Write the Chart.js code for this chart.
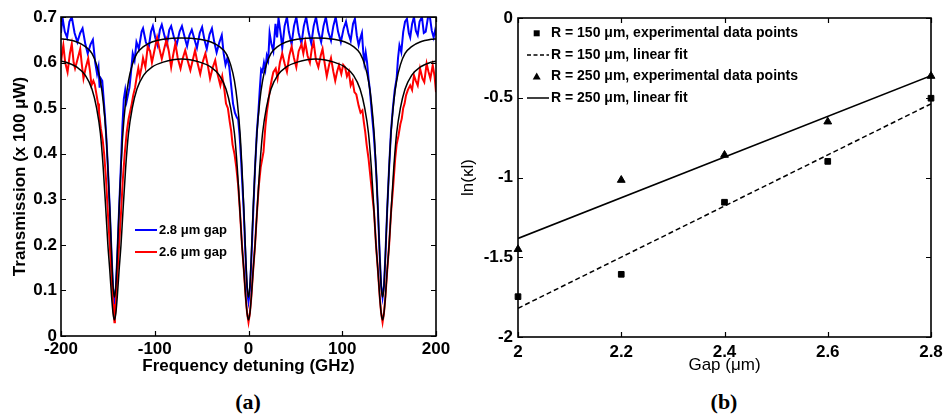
<!DOCTYPE html>
<html>
<head>
<meta charset="utf-8">
<script src="https://cdn.jsdelivr.net/npm/chart.js@4.4.1/dist/chart.umd.min.js"></script>
<style>
body { margin: 0; background: #fff; }
#wrap { position: relative; width: 945px; height: 416px; overflow: hidden; background: #fff; }
canvas { position: absolute; top: 0; }
#chartA { left: 0; }
#chartB { left: 450px; }
.tag { position: absolute; top: 389px; line-height: 22px; font: bold 22px "Liberation Serif", "Times New Roman", serif; transform: translateX(-50%); }
</style>
</head>
<body>
<div id="wrap">
  <canvas id="chartA" width="470" height="385"></canvas>
  <canvas id="chartB" width="495" height="385"></canvas>
  <div class="tag" style="left:248px">(a)</div>
  <div class="tag" style="left:724px">(b)</div>
</div>
<script>
// ---- panel (a): transmission spectra ----
var blueTrace = [
  [-200, 0.665], [-198.5, 0.70], [-196, 0.668], [-193.5, 0.655], [-191, 0.69], [-188.5, 0.70],
  [-185.5, 0.665], [-182.5, 0.645], [-179.5, 0.665], [-177, 0.675], [-174, 0.64], [-171.5, 0.62],
  [-168.5, 0.64], [-166, 0.65], [-163.5, 0.60], [-161.5, 0.575], [-160, 0.59], [-158.8, 0.545],
  [-157.5, 0.565], [-156, 0.56], [-154.5, 0.52], [-153, 0.48], [-151.5, 0.43], [-150, 0.37],
  [-148, 0.28], [-146, 0.175], [-144.5, 0.105], [-143, 0.075], [-141.5, 0.105], [-140, 0.175],
  [-138, 0.28], [-136, 0.38], [-134.5, 0.46], [-133, 0.52], [-131.5, 0.54], [-130, 0.515],
  [-128.5, 0.53], [-127, 0.545], [-125.5, 0.575], [-123.5, 0.62], [-121.5, 0.605], [-119.5, 0.645],
  [-117, 0.63], [-114, 0.668], [-112.5, 0.675], [-109.5, 0.645], [-106.5, 0.632], [-104, 0.668],
  [-102, 0.68], [-99.5, 0.655], [-97, 0.638], [-94.5, 0.672], [-92.5, 0.683], [-89.5, 0.658],
  [-87, 0.64], [-84.5, 0.672], [-82.5, 0.68], [-79.5, 0.655], [-76.5, 0.64], [-73.5, 0.668],
  [-71, 0.68], [-68, 0.655], [-65.5, 0.636], [-63, 0.66], [-60.5, 0.672], [-57.5, 0.65],
  [-55, 0.632], [-52, 0.665], [-49.5, 0.678], [-47, 0.65], [-44.5, 0.63], [-41.5, 0.662],
  [-39, 0.675], [-36.5, 0.645], [-34, 0.622], [-31, 0.645], [-28.5, 0.66], [-26.5, 0.62],
  [-24.5, 0.595], [-22.5, 0.61], [-20.5, 0.59], [-18.5, 0.55], [-16.5, 0.51], [-14.5, 0.49],
  [-12.5, 0.48], [-11, 0.475], [-9.5, 0.44], [-8, 0.39], [-6.5, 0.33], [-5, 0.27],
  [-3.5, 0.19], [-2, 0.12], [-1, 0.09], [0, 0.075], [1, 0.09], [2, 0.12],
  [3.5, 0.19], [5, 0.27], [7, 0.37], [9, 0.45], [10.5, 0.49], [12, 0.54],
  [13.5, 0.585], [15, 0.58], [16.5, 0.60], [18, 0.585], [19.5, 0.615], [21, 0.605],
  [22.5, 0.665], [24.5, 0.64], [26.5, 0.625], [28.8, 0.685], [30.5, 0.655], [32, 0.698],
  [34.5, 0.66], [36, 0.632], [38.5, 0.68], [41, 0.70], [43, 0.668], [46, 0.64],
  [48.5, 0.68], [51, 0.70], [53.5, 0.665], [56.5, 0.642], [59, 0.68], [61.5, 0.70],
  [64, 0.668], [67, 0.642], [69.5, 0.68], [72, 0.70], [74.5, 0.668], [77.5, 0.645],
  [80, 0.68], [82.5, 0.70], [85, 0.668], [88, 0.648], [90.5, 0.68], [93, 0.70],
  [95.5, 0.668], [98.5, 0.645], [101.5, 0.675], [104, 0.69], [106.5, 0.665], [109, 0.648],
  [111.5, 0.685], [113.5, 0.696], [115.5, 0.66], [117.5, 0.638], [119.5, 0.655], [121, 0.665],
  [122.5, 0.62], [123.5, 0.60], [125, 0.622], [126.5, 0.60], [128, 0.565], [129.5, 0.54],
  [131.5, 0.49], [133.5, 0.445], [135, 0.40], [136.5, 0.35], [138, 0.28], [140, 0.175],
  [141.5, 0.11], [143, 0.085], [144.5, 0.11], [146, 0.175], [148, 0.28], [150, 0.37],
  [152, 0.45], [154, 0.50], [156, 0.54], [158, 0.565], [159.5, 0.61], [161, 0.638],
  [163, 0.623], [165, 0.667], [167, 0.69], [169, 0.696], [171, 0.665], [172.5, 0.655],
  [174.5, 0.685], [176.5, 0.70], [178.5, 0.67], [180.5, 0.66], [182.5, 0.69], [185, 0.70],
  [187, 0.665], [189, 0.668], [191.5, 0.70], [193.5, 0.70], [195.5, 0.67], [197.5, 0.655],
  [199, 0.67], [200, 0.66]
];

var redTrace = [
  [-200, 0.60], [-198.5, 0.625], [-197.5, 0.638], [-195.5, 0.60], [-193, 0.579], [-190.5, 0.62],
  [-188.5, 0.641], [-186.5, 0.60], [-185, 0.587], [-182, 0.61], [-179.5, 0.63], [-178, 0.60],
  [-176, 0.565], [-173.5, 0.59], [-171, 0.609], [-169, 0.58], [-167.5, 0.55], [-165.5, 0.56],
  [-164, 0.552], [-162, 0.528], [-160.5, 0.51], [-159.5, 0.49], [-157.5, 0.455], [-155.5, 0.43],
  [-154, 0.40], [-152, 0.345], [-150, 0.27], [-148, 0.20], [-146, 0.13], [-144.5, 0.07],
  [-143.5, 0.04], [-143, 0.03], [-142.5, 0.04], [-141.5, 0.07], [-140, 0.13], [-138, 0.20],
  [-136, 0.27], [-134, 0.345], [-132, 0.40], [-130, 0.445], [-128, 0.475], [-126.5, 0.49],
  [-124.5, 0.51], [-123, 0.528], [-121, 0.545], [-119.5, 0.565], [-117.5, 0.588], [-116, 0.57],
  [-114, 0.59], [-112.5, 0.61], [-110, 0.59], [-107.5, 0.635], [-105, 0.625], [-103, 0.60],
  [-100.5, 0.625], [-97.5, 0.655], [-95, 0.63], [-92.5, 0.608], [-90, 0.63], [-87.5, 0.65],
  [-85, 0.625], [-82.5, 0.59], [-80.5, 0.615], [-78, 0.642], [-75.5, 0.61], [-72.5, 0.587],
  [-70, 0.61], [-67.5, 0.627], [-65, 0.605], [-62, 0.583], [-59.5, 0.605], [-57, 0.627],
  [-54.5, 0.60], [-51.5, 0.575], [-49, 0.60], [-46, 0.62], [-43.5, 0.595], [-41, 0.565],
  [-38, 0.59], [-35.5, 0.605], [-33, 0.575], [-30, 0.55], [-28, 0.57], [-26, 0.545],
  [-24, 0.51], [-22, 0.50], [-20, 0.47], [-18.5, 0.45], [-17, 0.42], [-15, 0.40],
  [-13, 0.37], [-11, 0.33], [-9, 0.27], [-7, 0.20], [-5, 0.145], [-3, 0.085],
  [-1.5, 0.05], [0, 0.03], [1.5, 0.05], [3, 0.085], [5, 0.145], [7, 0.20],
  [9, 0.27], [11, 0.33], [13, 0.37], [16, 0.404], [18, 0.46], [19.5, 0.49],
  [21.5, 0.52], [23, 0.543], [25, 0.565], [26.5, 0.579], [29, 0.587], [31, 0.565],
  [33.5, 0.60], [36, 0.62], [38.5, 0.598], [41, 0.58], [43.5, 0.615], [46, 0.635],
  [48.5, 0.61], [51, 0.59], [53.5, 0.625], [56.5, 0.64], [58.5, 0.62], [60.5, 0.645],
  [63, 0.615], [65.5, 0.60], [67.5, 0.63], [69.5, 0.645], [72, 0.605], [74.5, 0.59],
  [77, 0.615], [79, 0.63], [81.5, 0.595], [83.5, 0.57], [86, 0.595], [88, 0.61],
  [90.5, 0.58], [92.5, 0.56], [94.5, 0.58], [96.5, 0.594], [99, 0.575], [101, 0.595],
  [103, 0.59], [105, 0.57], [107, 0.58], [109, 0.55], [111, 0.56], [113, 0.535],
  [115, 0.53], [117.5, 0.505], [119.5, 0.49], [121.5, 0.495], [123, 0.47], [124.5, 0.448],
  [126, 0.42], [128, 0.39], [130, 0.35], [132, 0.31], [134, 0.27], [136, 0.20],
  [138, 0.145], [140, 0.085], [141.5, 0.05], [143, 0.03], [144.5, 0.05], [146, 0.085],
  [148, 0.145], [150, 0.20], [152, 0.27], [154, 0.32], [156.5, 0.39], [158, 0.42],
  [160, 0.44], [162, 0.465], [163.5, 0.477], [165, 0.50], [166.5, 0.51], [168, 0.528],
  [170, 0.54], [172.5, 0.55], [174.5, 0.54], [176.5, 0.572], [178.5, 0.56], [180.5, 0.55],
  [183, 0.587], [185.5, 0.565], [187.5, 0.557], [190, 0.598], [192, 0.58], [194, 0.565],
  [196.5, 0.594], [198.5, 0.57], [200, 0.535]
];

// black fitted curves (x in GHz)
var fitX = [-200, -195, -183, -174, -167, -162, -158, -155, -152, -150, -148, -146, -144.5,
  -143, -141.5, -140, -138, -136, -134, -131, -128, -124, -119, -112, -103, -91,
  -71.5, -52, -40, -31, -24, -19, -15, -12, -9, -7, -5, -3, -1.5,
  0, 1.5, 3, 5, 7, 9, 12, 15, 19, 24, 31, 40, 52,
  71.5, 91, 103, 112, 119, 124, 128, 131, 134, 136, 138, 140, 141.5,
  143, 144.5, 146, 148, 150, 152, 155, 158, 162, 167, 174, 183, 195, 200];
var fitUpper = [0.652, 0.651, 0.645, 0.635, 0.62, 0.595, 0.56, 0.515, 0.445, 0.37, 0.28, 0.175, 0.11,
  0.085, 0.11, 0.175, 0.28, 0.37, 0.445, 0.515, 0.56, 0.595, 0.62, 0.635, 0.645, 0.651,
  0.654, 0.651, 0.645, 0.635, 0.62, 0.595, 0.56, 0.515, 0.445, 0.37, 0.28, 0.175, 0.11,
  0.085, 0.11, 0.175, 0.28, 0.37, 0.445, 0.515, 0.56, 0.595, 0.62, 0.635, 0.645, 0.651,
  0.654, 0.651, 0.645, 0.635, 0.62, 0.595, 0.56, 0.515, 0.445, 0.37, 0.28, 0.175, 0.11,
  0.085, 0.11, 0.175, 0.28, 0.37, 0.445, 0.515, 0.56, 0.595, 0.62, 0.635, 0.645, 0.651, 0.652];
var fitLower = [0.603, 0.601, 0.59, 0.572, 0.542, 0.50, 0.445, 0.37, 0.27, 0.20, 0.145, 0.085, 0.05,
  0.035, 0.05, 0.085, 0.145, 0.20, 0.27, 0.37, 0.445, 0.50, 0.542, 0.572, 0.59, 0.601,
  0.608, 0.601, 0.59, 0.572, 0.542, 0.50, 0.445, 0.37, 0.27, 0.20, 0.145, 0.085, 0.05,
  0.035, 0.05, 0.085, 0.145, 0.20, 0.27, 0.37, 0.445, 0.50, 0.542, 0.572, 0.59, 0.601,
  0.608, 0.601, 0.59, 0.572, 0.542, 0.50, 0.445, 0.37, 0.27, 0.20, 0.145, 0.085, 0.05,
  0.035, 0.05, 0.085, 0.145, 0.20, 0.27, 0.37, 0.445, 0.50, 0.542, 0.572, 0.59, 0.601, 0.603];

var legendLabelsA = ['2.8 \u03bcm gap', '2.6 \u03bcm gap'];
var legendColorsA = ['rgb(0,0,255)', 'rgb(255,0,0)'];

// ---- panel (b): ln(kappa l) versus gap ----
var gapUm = [2.0, 2.2, 2.4, 2.6, 2.8];
var lnK150 = [-1.747, -1.607, -1.155, -0.899, -0.503];
var lnK250 = [-1.45, -1.016, -0.859, -0.65, -0.364];
var fitGap = [2.0, 2.8];
var fitLn150 = [-1.82, -0.538];
var fitLn250 = [-1.382, -0.362];
var legendLabelsB = [
  'R = 150 \u03bcm, experimental data points',
  'R = 150 \u03bcm, linear fit',
  'R = 250 \u03bcm, experimental data points',
  'R = 250 \u03bcm, linear fit'
];

var FONT = '"Liberation Sans", Arial, Helvetica, sans-serif';
Chart.defaults.font.family = FONT;
Chart.defaults.color = '#000';

function toPts(xs, ys) {
  return xs.map(function (x, i) { return { x: x, y: ys[i] }; });
}
function pairPts(list) {
  return list.map(function (p) { return { x: p[0], y: p[1] }; });
}
// plain labels like matlab: 2, 2.2, -1, -0.5
function plainTick(v) {
  return String(Math.round(v * 10) / 10);
}

// fixed axis box sizes so the plot area lands where the figure has it
function fixBox(w, h) {
  return function (scale) {
    if (w) scale.width = w;
    if (h) scale.height = h;
    scale.paddingLeft = 0;
    scale.paddingRight = 0;
    scale.paddingTop = 0;
    scale.paddingBottom = 0;
  };
}

// matlab style box with inward ticks on all four sides
var framePlugin = {
  id: 'frame',
  afterDatasetsDraw: function (chart) {
    var ctx = chart.ctx, a = chart.chartArea;
    var xs = chart.scales.x, ys = chart.scales.y;
    ctx.save();
    ctx.strokeStyle = '#000';
    ctx.lineWidth = 1.6;
    ctx.strokeRect(a.left, a.top, a.right - a.left, a.bottom - a.top);
    ctx.beginPath();
    xs.ticks.forEach(function (t) {
      var p = Math.round(xs.getPixelForValue(t.value)) + 0.5;
      ctx.moveTo(p, a.bottom); ctx.lineTo(p, a.bottom - 5);
      ctx.moveTo(p, a.top); ctx.lineTo(p, a.top + 5);
    });
    ys.ticks.forEach(function (t) {
      var p = Math.round(ys.getPixelForValue(t.value)) + 0.5;
      ctx.moveTo(a.left, p); ctx.lineTo(a.left + 5, p);
      ctx.moveTo(a.right, p); ctx.lineTo(a.right - 5, p);
    });
    ctx.lineWidth = 1.2;
    ctx.stroke();
    ctx.restore();
  }
};

var legendPluginA = {
  id: 'legendA',
  afterDraw: function (chart) {
    var ctx = chart.ctx, a = chart.chartArea;
    ctx.save();
    ctx.font = 'bold 13px ' + FONT;
    ctx.textBaseline = 'middle';
    ctx.fillStyle = '#000';
    legendLabelsA.forEach(function (label, i) {
      var y = a.top + 213 + i * 22;
      ctx.strokeStyle = legendColorsA[i];
      ctx.lineWidth = 2;
      ctx.beginPath();
      ctx.moveTo(a.left + 74, y);
      ctx.lineTo(a.left + 96, y);
      ctx.stroke();
      ctx.fillText(label, a.left + 98, y);
    });
    ctx.restore();
  }
};

var legendPluginB = {
  id: 'legendB',
  afterDraw: function (chart) {
    var ctx = chart.ctx, a = chart.chartArea;
    var x0 = a.left, rows = [15.3, 37, 58.5, 80];
    ctx.save();
    ctx.font = 'bold 14px ' + FONT;
    ctx.textBaseline = 'middle';
    ctx.fillStyle = '#000';
    ctx.strokeStyle = '#000';
    rows.forEach(function (r, i) {
      var y = a.top + r;
      var mx = x0 + 18.7;
      if (i === 0) {
        ctx.fillRect(mx - 3, y - 3, 6, 6);
      } else if (i === 2) {
        ctx.beginPath();
        ctx.moveTo(mx, y - 4);
        ctx.lineTo(mx + 4, y + 3);
        ctx.lineTo(mx - 4, y + 3);
        ctx.closePath();
        ctx.fill();
      } else {
        ctx.lineWidth = 1.5;
        ctx.setLineDash(i === 1 ? [4, 2.5] : []);
        ctx.beginPath();
        ctx.moveTo(x0 + 9, y);
        ctx.lineTo(x0 + 31, y);
        ctx.stroke();
        ctx.setLineDash([]);
      }
      ctx.fillText(legendLabelsB[i], x0 + 33, y);
    });
    ctx.restore();
  }
};

var tickFont = { size: 17, weight: 'bold' };

new Chart(document.getElementById('chartA'), {
  type: 'line',
  data: {
    datasets: [
      { data: toPts(fitX, fitUpper), borderColor: '#000', borderWidth: 1.5, pointRadius: 0, cubicInterpolationMode: 'monotone', order: 0 },
      { data: toPts(fitX, fitLower), borderColor: '#000', borderWidth: 1.5, pointRadius: 0, cubicInterpolationMode: 'monotone', order: 0 },
      { data: pairPts(blueTrace), borderColor: 'rgb(0,0,255)', borderWidth: 2, pointRadius: 0, tension: 0, order: 2 },
      { data: pairPts(redTrace), borderColor: 'rgb(255,0,0)', borderWidth: 2, pointRadius: 0, tension: 0, order: 1 }
    ]
  },
  options: {
    responsive: false,
    animation: false,
    devicePixelRatio: 1,
    layout: { padding: { left: 0, top: 17, right: 34, bottom: 5 } },
    plugins: { legend: { display: false }, tooltip: { enabled: false } },
    scales: {
      x: {
        type: 'linear', min: -200, max: 200,
        grid: { display: false, drawTicks: false },
        border: { display: false },
        ticks: { stepSize: 100, padding: 3, font: tickFont, maxRotation: 0, autoSkip: false },
        title: { display: true, text: 'Frequency detuning (GHz)', font: { size: 17, weight: 'bold' }, padding: { top: 0, bottom: 3 } },
        afterFit: fixBox(0, 44)
      },
      y: {
        type: 'linear', min: 0, max: 0.7,
        grid: { display: false, drawTicks: false },
        border: { display: false },
        ticks: { stepSize: 0.1, padding: 4, font: tickFont },
        title: { display: true, text: 'Transmission (x 100 \u03bcW)', font: { size: 17, weight: 'bold' }, padding: { top: 10, bottom: 0 } },
        afterFit: fixBox(61, 0)
      }
    }
  },
  plugins: [framePlugin, legendPluginA]
});

new Chart(document.getElementById('chartB'), {
  type: 'scatter',
  data: {
    datasets: [
      { data: toPts(gapUm, lnK150), pointStyle: 'rect', pointRadius: 4, borderWidth: 1, backgroundColor: '#000', borderColor: '#000', showLine: false, clip: false },
      { data: toPts(gapUm, lnK250), pointStyle: 'triangle', pointRadius: 4.5, borderWidth: 1, backgroundColor: '#000', borderColor: '#000', showLine: false, clip: false },
      { data: toPts(fitGap, fitLn150), showLine: true, borderColor: '#000', borderWidth: 1.5, borderDash: [5, 3], pointRadius: 0 },
      { data: toPts(fitGap, fitLn250), showLine: true, borderColor: '#000', borderWidth: 1.5, pointRadius: 0 }
    ]
  },
  options: {
    responsive: false,
    animation: false,
    devicePixelRatio: 1,
    layout: { padding: { left: 0, top: 18, right: 14, bottom: 4 } },
    plugins: { legend: { display: false }, tooltip: { enabled: false } },
    scales: {
      x: {
        type: 'linear', min: 2, max: 2.8,
        grid: { display: false, drawTicks: false },
        border: { display: false },
        ticks: { stepSize: 0.2, padding: 5, font: tickFont, maxRotation: 0, autoSkip: false, callback: plainTick },
        title: { display: true, text: 'Gap (\u03bcm)', font: { size: 17 }, padding: { top: 0, bottom: 5 } },
        afterFit: fixBox(0, 44)
      },
      y: {
        type: 'linear', min: -2, max: 0,
        grid: { display: false, drawTicks: false },
        border: { display: false },
        ticks: { stepSize: 0.5, padding: 5, font: tickFont, callback: plainTick },
        title: { display: true, text: 'ln(\u03bal)', font: { size: 17 }, padding: { top: 8, bottom: 0 } },
        afterFit: fixBox(68, 0)
      }
    }
  },
  plugins: [framePlugin, legendPluginB]
});
</script>
</body>
</html>
